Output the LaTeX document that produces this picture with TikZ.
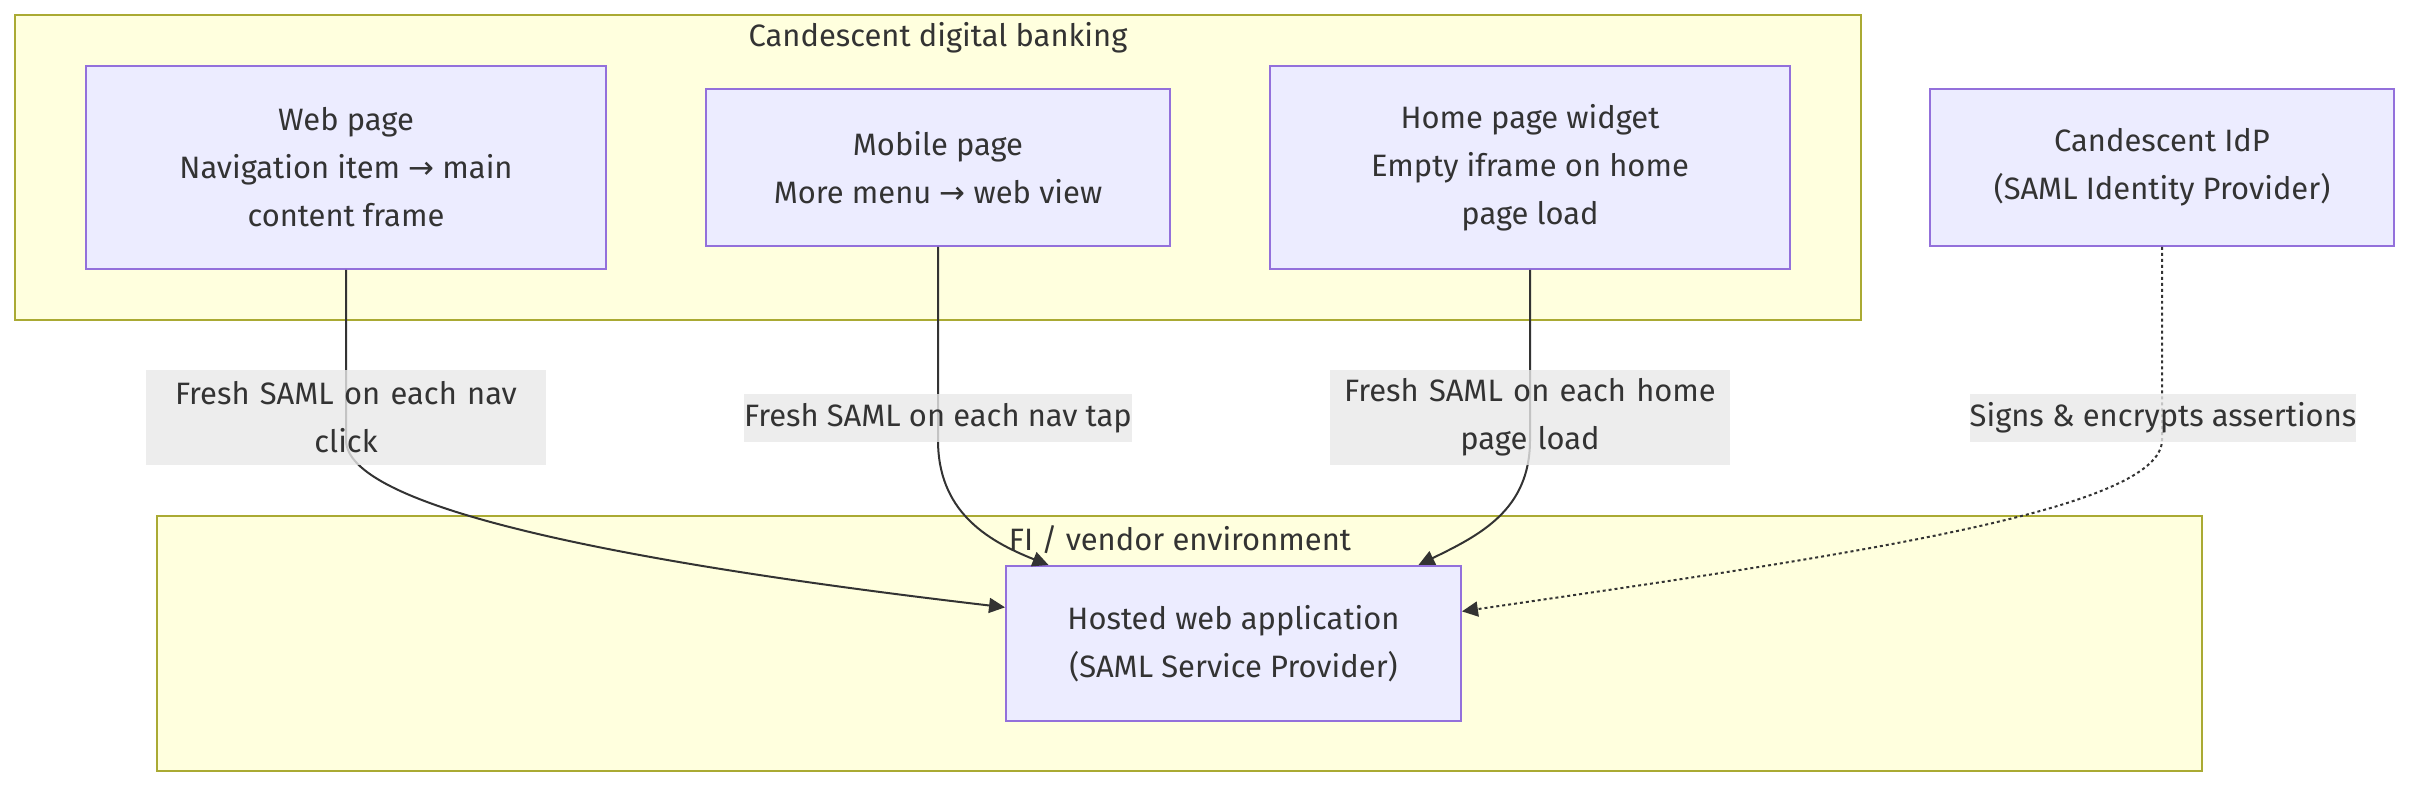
\documentclass[tikz,border=0pt]{standalone}
\usepackage{fontspec}
\setmainfont{Fira Sans}
\newfontfamily\symfont{DejaVu Sans}
\usetikzlibrary{arrows.meta,positioning}
\definecolor{inkgray}{RGB}{51,51,51}
\definecolor{nodeedge}{RGB}{147,112,219}
\definecolor{nodefill}{RGB}{236,236,255}
\definecolor{groupedge}{RGB}{170,170,51}
\definecolor{groupfill}{RGB}{255,255,222}
\definecolor{labelfill}{RGB}{232,232,232}
\newcommand{\toarrow}{{\symfont →}}

\begin{document}
\begin{tikzpicture}[x=0.02cm,y=-0.02cm,
    font=\fontsize{17.6}{27.3}\selectfont,text=inkgray,
    group/.style={draw=groupedge,fill=groupfill,line width=0.04cm},
    box/.style={draw=nodeedge,fill=nodefill,line width=0.04cm,align=center,inner sep=0pt},
    tag/.style={fill=labelfill,fill opacity=0.8,text opacity=1,inner sep=0pt,
                align=center,minimum height=0.96cm},
    link/.style={draw=inkgray,line width=0.04cm,-{Triangle[length=0.32cm,width=0.3cm]}}]
  \useasboundingbox (0,0) rectangle (2411,788);
  \node[group,minimum width=36.92cm,minimum height=6.1cm] (digital) at (938,167.5) {};
  \node[group,minimum width=40.9cm,minimum height=5.1cm] (vendor) at (1179.5,643.5) {};
  \node[inner sep=0pt] (digitaltitle) at (938,38) {Candescent digital banking};
  \node[inner sep=0pt] (vendortitle) at (1180,540) {FI / vendor environment};

  \node[box,minimum width=10.4cm,minimum height=4.06cm] (web) at (346,167.5)
    {Web page\\Navigation item \toarrow{} main\\content frame};
  \node[box,minimum width=9.28cm,minimum height=3.14cm] (mobile) at (938,167.5)
    {Mobile page\\More menu \toarrow{} web view};
  \node[box,minimum width=10.4cm,minimum height=4.06cm] (home) at (1530,167.5)
    {Home page widget\\Empty iframe on home\\page load};
  \node[box,minimum width=9.28cm,minimum height=3.14cm] (idp) at (2162,167.5)
    {Candescent IdP\\(SAML Identity Provider)};
  \node[box,minimum width=9.1cm,minimum height=3.1cm] (hosted) at (1233.5,643.5)
    {Hosted web application\\(SAML Service Provider)};

  \draw[link] (web.south) -- (346,440) .. controls (346,505) and (600,560) .. (hosted.171);
  \draw[link] (mobile.south) -- (938,440) .. controls (938,510) and (985,540) .. (hosted.157);
  \draw[link] (home.south) -- (1530,440) .. controls (1530,510) and (1480,535) .. (hosted.23);
  \draw[link,dash pattern=on 1.7pt off 1.7pt] (idp.south) -- (2162,440)
    .. controls (2162,510) and (1850,555) .. (hosted.8);

  \node[tag,text width=8cm,minimum height=1.92cm] (webtag) at (346,417.5)
    {Fresh SAML on each nav\\click};
  \node[tag] (mobiletag) at (938,418) {Fresh SAML on each nav tap};
  \node[tag,text width=8cm,minimum height=1.92cm] (hometag) at (1530,417.5)
    {Fresh SAML on each home\\page load};
  \node[tag] (idptag) at (2163,418) {Signs \& encrypts assertions};
\end{tikzpicture}
\end{document}
